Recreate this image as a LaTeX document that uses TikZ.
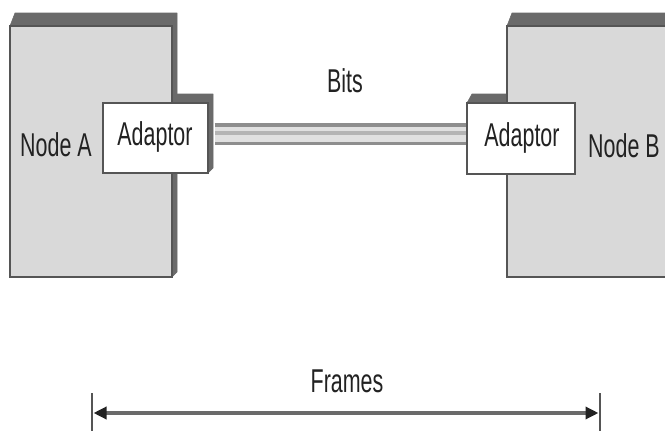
\documentclass[tikz,border=0pt]{standalone}
\usepackage{fontspec}
\usetikzlibrary{arrows.meta,calc,fit}
\newfontfamily\narrowsans[FakeStretch=0.65]{Liberation Sans}
\definecolor{facegray}{HTML}{D9D9D9}
\definecolor{edgegray}{HTML}{6A6A6A}
\definecolor{linegray}{HTML}{555555}
\definecolor{inkgray}{HTML}{222222}
\definecolor{cableedge}{HTML}{8E8E8E}
\definecolor{cablefill}{HTML}{E0E0E0}
\definecolor{cablemid}{HTML}{B4B4B4}
\tikzset{
  hostbox/.style={draw=linegray, line width=1.2pt, fill=facegray, inner sep=0pt},
  adaptbox/.style={draw=linegray, line width=1.2pt, fill=white, inner sep=0pt},
  depth/.style={fill=edgegray, draw=edgegray, line width=0.6pt, line join=round},
  lbl/.style={inner sep=0pt, anchor=base, text=inkgray,
    font=\narrowsans\fontsize{33}{36}\selectfont},
  bar/.style={draw=linegray, line width=1.4pt},
}
\begin{document}
\begin{tikzpicture}[x=1pt, y=-1pt]
\useasboundingbox (0,0) rectangle (665,431);
\clip (0,0) rectangle (665,431);

% corners of the box faces
\path (10,26) coordinate (aTL) (172,277) coordinate (aBR);
\path (507,26) coordinate (bTL) (710,277) coordinate (bBR);
\path (103,103) coordinate (paTL) (208,173) coordinate (paBR);
\path (467,103) coordinate (pbTL) (575,174) coordinate (pbBR);

% extruded sides of the adaptors (behind the hosts)
\fill[depth] (paTL) -- ++(5,-9) -- ($(paBR|-paTL)+(5,-9)$) -- ($(paBR)+(5,-5)$) -- (paBR) -- cycle;
\fill[depth] (pbTL) -- ++(5,-9) -- ($(pbBR|-pbTL)+(5,-9)$) -- ($(pbBR)+(5,-5)$) -- (pbBR) -- cycle;

% extruded sides of the hosts
\fill[depth] (aTL) -- ++(5,-13) -- ($(aBR|-aTL)+(5,-13)$) -- ($(aBR)+(5,-5)$) -- (aBR) -- cycle;
\fill[depth] (bTL) -- ++(5,-13) -- ($(bBR|-bTL)+(5,-13)$) -- ($(bBR)+(5,-5)$) -- (bBR) -- cycle;

% host faces
\node[hostbox, fit=(aTL)(aBR)] (nodeA) {};
\node[hostbox, fit=(bTL)(bBR)] (nodeB) {};

% adaptor faces
\node[adaptbox, fit=(paTL)(paBR)] (adA) {};
\node[adaptbox, fit=(pbTL)(pbBR)] (adB) {};

% cable between the adaptors
\coordinate (cA) at ($(adA.east)+(6,-4)$);
\coordinate (cB) at ($(adB.west)+(0,-4.5)$);
\draw[cableedge, line width=22pt] (cA) -- (cB);
\draw[cablefill, line width=15pt] (cA) -- (cB);
\draw[cablemid, line width=3.5pt] ($(cA)+(0,-1)$) -- ($(cB)+(0,-1)$);

% labels
\node[lbl] (tA) at (56,156) {Node A};
\node[lbl] (tB) at (624,157) {Node B};
\node[lbl] (tadA) at (155,145) {Adaptor};
\node[lbl] (tadB) at (522,146) {Adaptor};
\node[lbl] (tbits) at (345,92) {Bits};
\node[lbl] (tframes) at (347,392) {Frames};

% frame extent marker
\coordinate (lt) at (92,393);
\coordinate (lb) at (92,431);
\coordinate (rt) at (600,393);
\coordinate (rb) at (600,431);
\draw[bar] (lt) -- (lb);
\draw[bar] (rt) -- (rb);
\coordinate (fl) at (93.5,413);
\coordinate (fr) at (598.5,413);
\draw[line width=4.5pt, draw=edgegray,
  {Triangle[length=13pt, width=12pt, color=inkgray]}-{Triangle[length=13pt, width=12pt, color=inkgray]}]
  (fl) -- (fr);
\end{tikzpicture}
\end{document}
